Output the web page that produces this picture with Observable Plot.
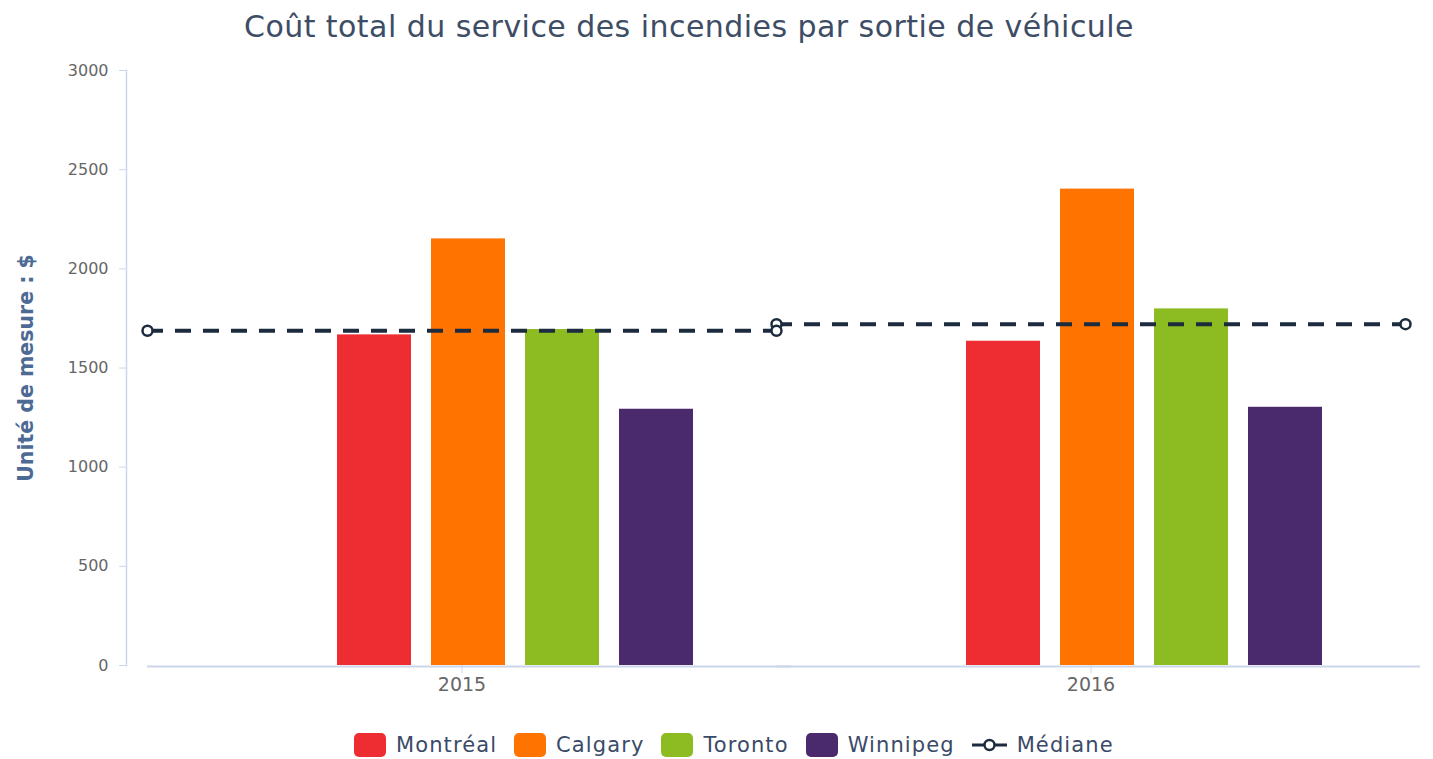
<!DOCTYPE html>
<html><head><meta charset="utf-8">
<script src="https://cdn.jsdelivr.net/npm/d3@7"></script>
<script src="https://cdn.jsdelivr.net/npm/@observablehq/plot@0.6"></script>
<style>
body{margin:0;background:#fff;font-family:"DejaVu Sans",sans-serif;width:1433px;height:759px;position:relative;overflow:hidden;}
#title{position:absolute;left:0;top:9px;width:1378px;text-align:center;font-size:30px;letter-spacing:0.45px;color:#3d4d66;white-space:nowrap;}
#chart{position:absolute;left:0;top:50px;}
#legend{position:absolute;left:354px;top:733px;display:flex;align-items:center;font-size:21px;letter-spacing:1.1px;color:#3a4a68;white-space:nowrap;}
.item{display:flex;align-items:center;margin-right:17px;}
.sw{width:32px;height:24px;border-radius:5px;margin-right:10px;}
</style></head><body>
<div id="title">Coût total du service des incendies par sortie de véhicule</div>
<div id="chart"></div>
<div id="legend"></div>
<script>
const years = ["2015", "2016"];
const cities = ["Montréal", "Calgary", "Toronto", "Winnipeg"];
const cityColors = ["#ee2d32", "#ff7300", "#8cbc22", "#4a2a6d"];
const montreal = [1667, 1635];
const calgary = [2151, 2402];
const toronto = [1694, 1798];
const winnipeg = [1292, 1302];
const median = [1688, 1721];
const yTicks = [0, 500, 1000, 1500, 2000, 2500, 3000];
const yTitle = "Unité de mesure : $";
const medianLabel = "Médiane";
const medianColor = "#1d2b3f";

const series = [montreal, calgary, toronto, winnipeg];
const rows = [];
years.forEach((yr, i) => cities.forEach((c, j) => rows.push({year: yr, city: c, value: series[j][i]})));
const medRows = years.map((yr, i) => ({year: yr, value: median[i]}));

const plot = Plot.plot({
  width: 1433, height: 665,
  marginTop: 20, marginBottom: 50, marginLeft: 146, marginRight: 28,
  style: {fontFamily: "'DejaVu Sans', sans-serif", background: "transparent"},
  fx: {domain: years, padding: 0, label: null},
  x: {domain: cities, paddingInner: 0.215, paddingOuter: 1.4425, align: 0.696, axis: null},
  y: {domain: [0, 3000], label: null},
  color: {domain: cities, range: cityColors},
  marks: [
    Plot.barY(rows, {fx: "year", x: "city", y: "value", fill: "city"}),
    Plot.ruleY([0], {stroke: "#ccd6eb", strokeWidth: 2, dy: 1, insetRight: -15}),
    Plot.frame({anchor: "left", stroke: "#ccd6eb", strokeWidth: 1.5, dx: -21, facetAnchor: "left"}),
    Plot.axisY(yTicks, {tickSize: 7, dx: -21, stroke: "#ccd6eb", fill: "#666666", fontSize: 16, tickPadding: 11, tickFormat: d => String(d), label: null}),
    Plot.axisFx({anchor: "bottom", tickSize: 8, stroke: "#ccd6eb", fill: "#666666", fontSize: 19, tickPadding: 4, label: null}),
    Plot.text([yTitle], {frameAnchor: "left", textAnchor: "middle", rotate: -90, dx: -121, fontSize: 20.5, fontWeight: "bold", fill: "#4d6a95", facetAnchor: "left"}),
    Plot.ruleY(medRows, {fx: "year", y: "value", stroke: medianColor, strokeWidth: 4, strokeDasharray: "16,12"}),
    Plot.dot(medRows, {fx: "year", y: "value", frameAnchor: "left", r: 5, stroke: medianColor, strokeWidth: 2.5, fill: "white"}),
    Plot.dot(medRows, {fx: "year", y: "value", frameAnchor: "right", r: 5, stroke: medianColor, strokeWidth: 2.5, fill: "white"})
  ]
});
document.getElementById("chart").appendChild(plot);

const legend = document.getElementById("legend");
cities.forEach((c, i) => {
  const it = document.createElement("div");
  it.className = "item";
  it.innerHTML = `<div class="sw" style="background:${cityColors[i]}"></div><span>${c}</span>`;
  legend.appendChild(it);
});
const med = document.createElement("div");
med.className = "item";
med.innerHTML = `<svg width="35" height="16" style="margin-right:10px"><line x1="0" y1="8" x2="35" y2="8" stroke="${medianColor}" stroke-width="3"/><circle cx="17.5" cy="8" r="5" fill="white" stroke="${medianColor}" stroke-width="2.5"/></svg><span>${medianLabel}</span>`;
legend.appendChild(med);
</script>
</body></html>
